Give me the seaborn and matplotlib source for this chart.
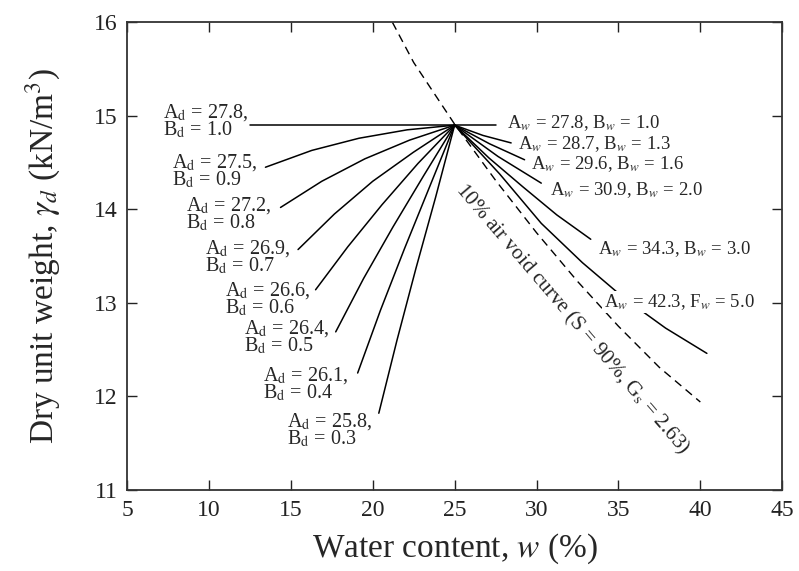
import matplotlib
matplotlib.use("Agg")
import matplotlib.pyplot as plt
import numpy as np
import pandas as pd
import seaborn as sns

sns.set_theme(style="ticks")
plt.rcParams["font.family"] = ["Liberation Serif", "DejaVu Serif"]
plt.rcParams["mathtext.fontset"] = "stix"

# Optimum point shared by every curve
w_opt, g_opt = 25.0, 14.9

# Dry side: parameters and curve points (from the dry end towards the optimum)
dry_A = [27.8, 27.5, 27.2, 26.9, 26.6, 26.4, 26.1, 25.8]
dry_B = [1.0, 0.9, 0.8, 0.7, 0.6, 0.5, 0.4, 0.3]
dry_w = [
    [12.50, 25.0],
    [13.45, 16.28, 19.16, 22.10, 25.0],
    [14.37, 16.89, 19.52, 22.25, 25.0],
    [15.44, 17.66, 20.00, 22.48, 25.0],
    [16.51, 18.48, 20.57, 22.76, 25.0],
    [17.74, 19.44, 21.23, 23.11, 25.0],
    [19.08, 20.47, 21.94, 23.47, 25.0],
    [20.37, 21.48, 22.64, 23.84, 25.0],
]
dry_g = [
    [14.90, 14.9],
    [14.45, 14.63, 14.76, 14.85, 14.9],
    [14.02, 14.30, 14.54, 14.74, 14.9],
    [13.57, 13.95, 14.30, 14.61, 14.9],
    [13.14, 13.60, 14.05, 14.49, 14.9],
    [12.69, 13.26, 13.81, 14.36, 14.9],
    [12.25, 12.92, 13.58, 14.24, 14.9],
    [11.82, 12.60, 13.37, 14.13, 14.9],
]

# Wet side: parameters and curve points (from the optimum towards the wet end)
wet_A = [27.8, 28.7, 29.6, 30.9, 34.3, 42.3]
wet_B = [1.0, 1.3, 1.6, 2.0, 3.0, 5.0]
wet_Bsym = ["B", "B", "B", "B", "B", "F"]
wet_w = [
    [25.0, 27.53],
    [25.0, 26.73, 28.45],
    [25.0, 27.14, 29.27],
    [25.0, 27.65, 30.29],
    [25.0, 27.09, 29.17, 31.24, 33.31],
    [25.0, 27.74, 30.29, 32.80, 35.35, 37.88, 40.40],
]
wet_g = [
    [14.9, 14.90],
    [14.9, 14.79, 14.71],
    [14.9, 14.70, 14.53],
    [14.9, 14.565, 14.28],
    [14.9, 14.55, 14.24, 13.94, 13.68],
    [14.9, 14.38, 13.85, 13.43, 13.05, 12.73, 12.46],
]

# 10% air void curve (S = 90%, Gs = 2.63)
void_w = [21.2, 22.5, 25.0, 27.5, 30.0, 32.5, 35.0, 37.5, 40.0]
void_g = [16.0, 15.57, 14.91, 14.31, 13.75, 13.23, 12.75, 12.31, 11.94]

rows = []
for i, (ws, gs) in enumerate(zip(dry_w, dry_g)):
    for w, g in zip(ws, gs):
        rows.append({"w": w, "g": g, "curve": f"d{i}"})
for i, (ws, gs) in enumerate(zip(wet_w, wet_g)):
    for w, g in zip(ws, gs):
        rows.append({"w": w, "g": g, "curve": f"w{i}"})
curves = pd.DataFrame(rows)
void = pd.DataFrame({"w": void_w, "g": void_g})

fig = plt.figure(figsize=(7.99, 5.71), dpi=100)
ax = fig.add_axes([0.159, 0.142, 0.820, 0.819])

sns.lineplot(data=curves, x="w", y="g", units="curve", estimator=None,
             sort=False, color="black", lw=1.1, ax=ax, zorder=2)
sns.lineplot(data=void, x="w", y="g", estimator=None, sort=False,
             color="black", lw=1.0, dashes=False, ax=ax, zorder=2)
ax.lines[-1].set_linestyle((0, (6, 4)))

# Dry-side labels
dry_pos = [(7.18, 14.94), (7.73, 14.41), (8.60, 13.95), (9.76, 13.49),
           (10.98, 13.04), (12.15, 12.63), (13.32, 12.13), (14.79, 11.64)]
for a, b, (x, y) in zip(dry_A, dry_B, dry_pos):
    ax.text(x, y, f"A$_\\mathrm{{d}}$ = {a:.1f},\nB$_\\mathrm{{d}}$ = {b:.1f}",
            ha="left", va="center", fontsize=14.5, linespacing=0.78, zorder=3)

# Wet-side labels
wet_pos = [(28.19, 14.92), (28.84, 14.70), (29.65, 14.48), (30.83, 14.21),
           (33.78, 13.58), (34.09, 13.01)]
for k, (a, b, s, (x, y)) in enumerate(zip(wet_A, wet_B, wet_Bsym, wet_pos)):
    kw = {}
    if k == len(wet_A) - 1:
        kw["bbox"] = dict(facecolor="white", edgecolor="none", pad=1.0)
    ax.text(x, y, f"A$_w$ = {a:.1f}, {s}$_w$ = {b:.1f}",
            ha="left", va="center", fontsize=13.5, zorder=3, **kw)

ax.text(32.16, 12.83, "10% air void curve (S = 90%, G$_\\mathrm{s}$ = 2.63)",
        rotation=-49.5, rotation_mode="anchor", ha="center", va="center",
        fontsize=15.3, zorder=3)

ax.set_xlim(5, 45)
ax.set_ylim(11, 16)
ax.set_xticks(range(5, 46, 5))
ax.set_yticks(range(11, 17))
ax.set_xlabel("Water content, $w$ (%)", fontsize=24, labelpad=8)
ax.set_ylabel("Dry unit weight, $\\gamma_d$ (kN/m$^3$)", fontsize=24, labelpad=22)

for sp in ax.spines.values():
    sp.set_visible(True)
    sp.set_linewidth(1.3)
    sp.set_color("#333333")
ax.tick_params(direction="in", length=7, width=1.0, top=True, right=True,
               labelsize=17, colors="#222222", pad=7)

fig.savefig("out.png", dpi=100)
